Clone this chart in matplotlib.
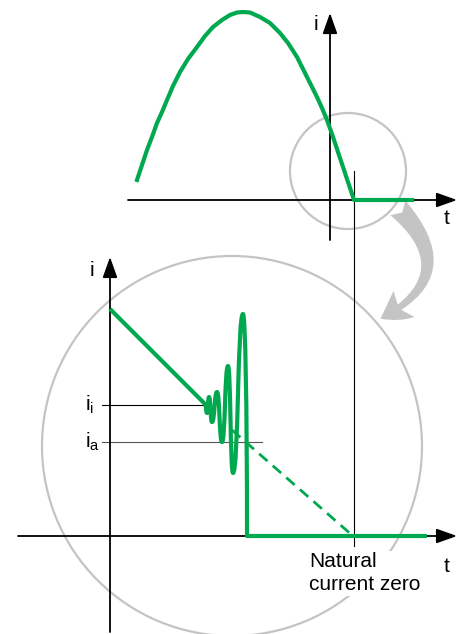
import numpy as np
import matplotlib
matplotlib.use("Agg")
import matplotlib.pyplot as plt
from matplotlib.patches import Circle, FancyArrowPatch, PathPatch
from matplotlib.path import Path

plt.rcParams['font.family'] = ['Liberation Sans', 'DejaVu Sans']
plt.rcParams['mathtext.fontset'] = 'custom'
plt.rcParams['mathtext.rm'] = 'Liberation Sans'
plt.rcParams['mathtext.it'] = 'Liberation Sans'

GREEN = '#00a94f'
GREY = '#c4c4c4'
FS = 15

# ---- data (pixel units, y downwards) ----
# upper sketch: one half wave of current, chopped at natural zero
top_x = [137, 142, 147, 152, 157, 162, 167, 173, 180, 188, 197, 205, 213, 222, 230, 237, 243,
         250, 260, 270, 280, 288, 297, 303, 310, 317, 322, 327, 332, 337, 342, 347, 354, 412]
top_y = [180, 165, 150, 137, 123, 112, 100, 86, 72, 59, 47, 36, 27, 20, 15, 12.5, 12,
         12.5, 17, 23, 33, 43, 57, 69, 83, 97, 108, 120, 134, 149, 164, 179, 200, 200]

# lower sketch (zoom): falling current, oscillation, then chop
fall_x = [110, 205]
fall_y = [309, 404]
osc_x = [207, 209, 212, 217, 222, 228, 233, 243]   # extremes of the oscillation
osc_y = [413, 397, 422, 392, 442, 366, 473, 314]
chop_x = [247, 247, 427]
chop_y = [400, 536, 536]
ideal_x = [232, 353]                                 # dashed, undisturbed current
ideal_y = [430, 536]

ii_level = 405
ia_level = 442
natural_zero_x = 354

# ---- figure ----
fig = plt.figure(figsize=(4.58, 6.34), dpi=100)
ax = fig.add_axes([0, 0, 1, 1])
ax.set_xlim(0, 458)
ax.set_ylim(634, 0)
ax.axis('off')


def axis_arrow(x0, y0, x1, y1):
    ax.annotate('', xy=(x1, y1), xytext=(x0, y0),
                arrowprops=dict(arrowstyle='-|>,head_length=0.9,head_width=0.32',
                                color='black', lw=1.3, shrinkA=0, shrinkB=0,
                                mutation_scale=14), zorder=4)


# circles
ax.add_patch(Circle((348, 171), 58, fill=False, ec=GREY, lw=1.6, zorder=1))
ax.add_patch(Circle((232, 446), 190, fill=False, ec=GREY, lw=1.6, zorder=1))

# curved grey arrow from small circle to big circle
ax.add_patch(FancyArrowPatch((396, 206), (378, 320),
                             connectionstyle='arc3,rad=-0.7',
                             arrowstyle='fancy,head_length=20,head_width=24,tail_width=15',
                             mutation_scale=1, color=GREY, lw=0, zorder=1))

# upper axes
axis_arrow(128, 200, 457, 200)
axis_arrow(330, 240, 330, 13)
ax.text(316, 24, 'i', fontsize=FS, ha='center', va='center')
ax.text(447, 218, 't', fontsize=FS, ha='center', va='center')

# natural current zero line
ax.plot([natural_zero_x, natural_zero_x], [171, 546], color='black', lw=0.8, zorder=3)

ax.plot(top_x, top_y, color=GREEN, lw=3, solid_joinstyle='round', zorder=5)

# lower axes
axis_arrow(18, 536, 457, 536)
axis_arrow(110, 632, 110, 257)
ax.text(92, 270, 'i', fontsize=FS, ha='center', va='center')
ax.text(447, 566, 't', fontsize=FS, ha='center', va='center')

# ii / ia levels
ax.plot([102, 205], [ii_level, ii_level], color='black', lw=0.8, zorder=3)
ax.plot([102, 262], [ia_level, ia_level], color='#555555', lw=0.8, zorder=3)
ax.text(85, ii_level, r'$\mathrm{i_i}$', fontsize=FS, ha='left', va='center')
ax.text(85, ia_level, r'$\mathrm{i_a}$', fontsize=FS, ha='left', va='center')

# dashed ideal current
ax.plot(ideal_x, ideal_y, color=GREEN, lw=2, ls=(0, (4, 2.5)), zorder=4)

# green current with oscillation as a bezier path
verts = [(fall_x[0], fall_y[0]), (fall_x[1], fall_y[1])]
codes = [Path.MOVETO, Path.LINETO]
prev = (fall_x[1], fall_y[1])
for x, y in zip(osc_x, osc_y):
    h = 0.55 * (x - prev[0])
    verts += [(prev[0] + h, prev[1]), (x - h, y), (x, y)]
    codes += [Path.CURVE4] * 3
    prev = (x, y)
h = 0.55 * (chop_x[0] - prev[0])
verts += [(prev[0] + h, prev[1]), (chop_x[0], chop_y[0]), (chop_x[1], chop_y[1])]
codes += [Path.CURVE4] * 3
verts.append((chop_x[2], chop_y[2]))
codes.append(Path.LINETO)
ax.add_patch(PathPatch(Path(verts, codes), fill=False, ec=GREEN, lw=3,
                       joinstyle='round', zorder=5))

ax.text(309, 552, 'Natural\ncurrent zero', fontsize=FS, ha='left', va='top',
        linespacing=1.3, zorder=2,
        bbox=dict(facecolor='white', edgecolor='none', pad=1))

fig.savefig('out.png', dpi=100)
